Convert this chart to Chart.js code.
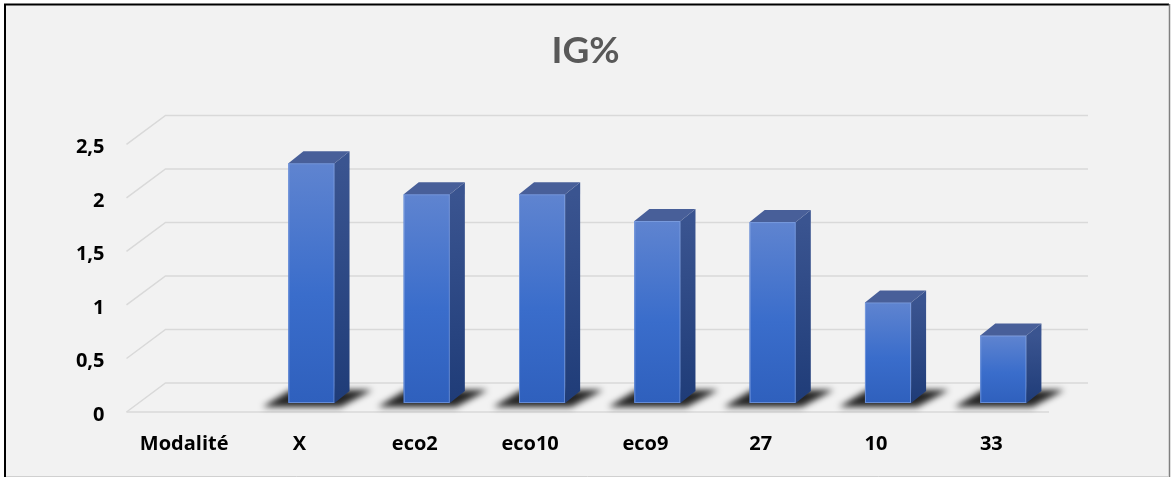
<!DOCTYPE html>
<html>
<head>
<meta charset="utf-8">
<script src="https://cdn.jsdelivr.net/npm/chart.js@4.4.1/dist/chart.umd.min.js"></script>
<style>
  html, body { margin: 0; padding: 0; background: #fff; }
  #wrap { width: 1171px; height: 477px; }
</style>
</head>
<body>
<div id="wrap"><canvas id="igChart" width="1171" height="477"></canvas></div>
<script>
const categories = ["Modalité", "X", "eco2", "eco10", "eco9", "27", "10", "33"];
const igValues = [null, 2.24, 1.95, 1.95, 1.70, 1.69, 0.94, 0.63];
const yTicks = [0, 0.5, 1, 1.5, 2, 2.5];

const TITLE_FONT = "Lato, 'Open Sans', sans-serif";
const LABEL_FONT = "'Open Sans', Lato, sans-serif";

// pseudo 3D: offsets between the front plane, the bar plane and the back wall
const depth = { frontDx: -12, frontDy: 9, backDx: 27, backDy: -20, sideDx: 15, sideDy: -12 };

const frame3d = {
    id: 'frame3d',
    beforeDraw(chart) {
        const ctx = chart.ctx;
        ctx.save();
        ctx.fillStyle = '#ffffff';
        ctx.fillRect(0, 0, chart.width, chart.height);
        ctx.fillStyle = '#f2f2f2';
        ctx.fillRect(5, 5, 1164, 472);
        ctx.strokeStyle = '#000';
        ctx.lineWidth = 2;
        ctx.beginPath();
        ctx.moveTo(5, 477); ctx.lineTo(5, 4.5); ctx.lineTo(1169, 4.5);
        ctx.stroke();
        ctx.strokeStyle = '#808080';
        ctx.lineWidth = 1.5;
        ctx.beginPath();
        ctx.moveTo(1169.5, 4); ctx.lineTo(1169.5, 477);
        ctx.stroke();
        ctx.strokeStyle = '#d0d0d0';
        ctx.lineWidth = 1;
        ctx.beginPath();
        ctx.moveTo(6, 476.5); ctx.lineTo(1169, 476.5);
        ctx.stroke();
        ctx.restore();
    },
    beforeDatasetsDraw(chart) {
        const ctx = chart.ctx;
        const area = chart.chartArea;
        const y = chart.scales.y;
        const fl = area.left + depth.frontDx;
        const fr = area.right + depth.frontDx;
        const bd = { dx: depth.backDx - depth.frontDx, dy: depth.backDy - depth.frontDy };
        ctx.save();
        ctx.strokeStyle = '#d9d9d9';
        ctx.lineWidth = 1.5;
        yTicks.forEach(v => {
            const yf = y.getPixelForValue(v) + depth.frontDy;
            ctx.beginPath();
            ctx.moveTo(fl, yf);
            ctx.lineTo(fl + bd.dx, yf + bd.dy);
            ctx.lineTo(fr + bd.dx, yf + bd.dy);
            ctx.stroke();
        });
        // floor front edge
        const y0 = y.getPixelForValue(0) + depth.frontDy;
        ctx.beginPath();
        ctx.moveTo(fl, y0);
        ctx.lineTo(fr, y0);
        ctx.stroke();

        // soft shadows on the floor
        const meta = chart.getDatasetMeta(0);
        ctx.filter = 'blur(3px)';
        ctx.fillStyle = 'rgba(0,0,0,0.85)';
        meta.data.forEach((bar, i) => {
            if (igValues[i] == null) return;
            const p = bar.getProps(['x', 'base', 'width'], true);
            const bl = p.x - p.width / 2;
            const b = p.base;
            ctx.beginPath();
            ctx.moveTo(bl - 26, b + 4);
            ctx.lineTo(bl + 52, b + 4);
            ctx.lineTo(bl + 84, b - 13);
            ctx.lineTo(bl + 2, b - 13);
            ctx.closePath();
            ctx.fill();
        });
        ctx.restore();
    },
    afterDatasetsDraw(chart) {
        const ctx = chart.ctx;
        const meta = chart.getDatasetMeta(0);
        ctx.save();
        meta.data.forEach((bar, i) => {
            if (igValues[i] == null) return;
            const p = bar.getProps(['x', 'y', 'base', 'width'], true);
            const l = p.x - p.width / 2, r = p.x + p.width / 2;
            const t = p.y, b = p.base;
            const sx = depth.sideDx, sy = depth.sideDy;

            // front face
            const gf = ctx.createLinearGradient(0, t, 0, b);
            gf.addColorStop(0, '#5f84d0');
            gf.addColorStop(0.55, '#3a6dcb');
            gf.addColorStop(1, '#2f60bd');
            ctx.fillStyle = gf;
            ctx.fillRect(l, t, r - l, b - t);
            ctx.strokeStyle = 'rgba(140,170,230,0.6)';
            ctx.lineWidth = 1;
            ctx.strokeRect(l + 0.5, t + 0.5, r - l - 1, b - t - 1);

            // side face
            const gs = ctx.createLinearGradient(0, t, 0, b);
            gs.addColorStop(0, '#3a5490');
            gs.addColorStop(1, '#1f3c78');
            ctx.fillStyle = gs;
            ctx.beginPath();
            ctx.moveTo(r, t);
            ctx.lineTo(r + sx, t + sy);
            ctx.lineTo(r + sx, b + sy);
            ctx.lineTo(r, b);
            ctx.closePath();
            ctx.fill();

            // top face
            ctx.fillStyle = '#485f99';
            ctx.beginPath();
            ctx.moveTo(l, t);
            ctx.lineTo(l + sx, t + sy);
            ctx.lineTo(r + sx, t + sy);
            ctx.lineTo(r, t);
            ctx.closePath();
            ctx.fill();
        });
        ctx.restore();
    }
};

const ctx = document.getElementById('igChart').getContext('2d');
const igChart = new Chart(ctx, {
    type: 'bar',
    data: {
        labels: categories,
        datasets: [{
            label: 'IG%',
            data: igValues,
            backgroundColor: '#3a6dcb',
            barPercentage: 0.4,
            categoryPercentage: 1.0
        }]
    },
    options: {
        responsive: false,
        animation: false,
        layout: { padding: 0 },
        plugins: {
            legend: { display: false },
            tooltip: { enabled: false },
            title: {
                display: true,
                text: 'IG%',
                color: '#595959',
                font: { family: TITLE_FONT, size: 37, weight: 'bold' },
                padding: { top: 29, bottom: 62 }
            }
        },
        scales: {
            x: {
                grid: { display: false },
                border: { display: false },
                ticks: {
                    color: '#000',
                    font: { family: LABEL_FONT, size: 20, weight: 'bold' },
                    padding: 21,
                    labelOffset: depth.frontDx,
                    maxRotation: 0
                },
                afterFit: scale => { scale.height = 74; }
            },
            y: {
                min: 0,
                max: 2.5,
                grid: { display: false, drawTicks: false },
                border: { display: false },
                ticks: {
                    stepSize: 0.5,
                    color: '#000',
                    font: { family: LABEL_FONT, size: 20, weight: 'bold' },
                    padding: 34,
                    labelOffset: 12,
                    callback: v => String(v).replace('.', ',')
                },
                afterFit: scale => { scale.width = 138.5; }
            },
            // empty right-hand spacer so the title stays centred on the page
            spacer: {
                type: 'linear',
                position: 'right',
                display: true,
                grid: { display: false, drawTicks: false },
                border: { display: false },
                ticks: { display: false },
                afterFit: scale => { scale.width = 110; }
            }
        }
    },
    plugins: [frame3d]
});
</script>
</body>
</html>
